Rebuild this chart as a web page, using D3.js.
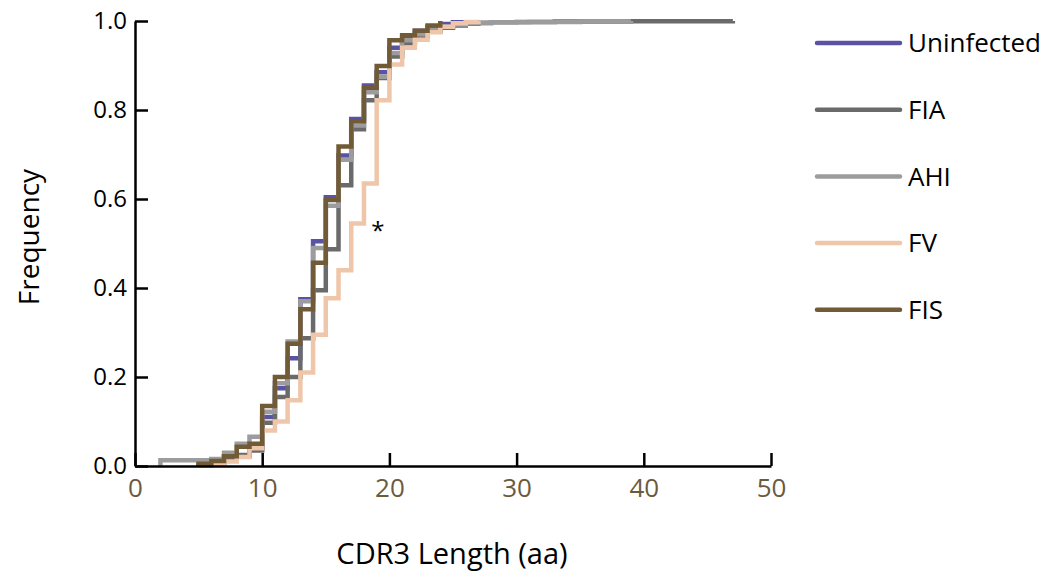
<!DOCTYPE html>
<html>
<head>
<meta charset="utf-8">
<script src="https://cdn.jsdelivr.net/npm/d3@7"></script>
<style>
  body { margin: 0; background: #fff; }
  text { font-family: "Open Sans", "Noto Sans", sans-serif; }
</style>
</head>
<body>
<div id="chart-area"></div>
<script>
// DATA: cumulative frequency at each CDR3 length (step after)
var seriesNames = ["Uninfected", "FIA", "AHI", "FV", "FIS"];
var seriesColors = ["#5a53a3", "#6a6a6a", "#9c9c9e", "#efc6a9", "#715b36"];

var uninfLen = [5, 6, 7, 8, 9, 10, 11, 12, 13, 14, 15, 16, 17, 18, 19, 20, 21, 22, 23, 24, 25, 26];
var uninfFreq = [0.003, 0.008, 0.015, 0.022, 0.04, 0.11, 0.175, 0.242, 0.375, 0.505, 0.604, 0.698, 0.78, 0.855, 0.885, 0.94, 0.96, 0.978, 0.987, 0.993, 0.997, 1.0];

var fiaLen = [5, 6, 7, 8, 9, 10, 11, 12, 13, 14, 15, 16, 17, 18, 19, 20, 21, 22, 23, 24, 25, 26, 27, 28, 30, 33, 39, 47];
var fiaFreq = [0.002, 0.008, 0.02, 0.025, 0.035, 0.097, 0.155, 0.2, 0.287, 0.395, 0.487, 0.631, 0.757, 0.822, 0.872, 0.92, 0.95, 0.965, 0.977, 0.985, 0.99, 0.994, 0.996, 0.997, 0.998, 0.999, 0.9995, 1.0];

var ahiLen = [2, 6, 7, 8, 9, 10, 11, 12, 13, 14, 15, 16, 17, 18, 19, 20, 21, 22, 23, 24, 25, 26, 28, 31, 35, 39];
var ahiFreq = [0.013, 0.016, 0.03, 0.05, 0.066, 0.122, 0.186, 0.28, 0.37, 0.49, 0.585, 0.688, 0.765, 0.84, 0.875, 0.928, 0.957, 0.97, 0.98, 0.987, 0.992, 0.995, 0.997, 0.998, 0.999, 1.0];

var fvLen = [6, 7, 8, 9, 10, 11, 12, 13, 14, 15, 16, 17, 18, 19, 20, 21, 22, 23, 24, 25, 26, 27];
var fvFreq = [0.003, 0.01, 0.02, 0.04, 0.08, 0.1, 0.148, 0.21, 0.295, 0.377, 0.44, 0.545, 0.635, 0.822, 0.902, 0.94, 0.958, 0.975, 0.987, 0.995, 0.998, 1.0];

var fisLen = [5, 6, 7, 8, 9, 10, 11, 12, 13, 14, 15, 16, 17, 18, 19, 20, 21, 22, 23, 24];
var fisFreq = [0.005, 0.011, 0.022, 0.043, 0.05, 0.135, 0.2, 0.275, 0.352, 0.457, 0.598, 0.718, 0.775, 0.85, 0.899, 0.957, 0.968, 0.978, 0.99, 1.0];

var xTicks = [0, 10, 20, 30, 40, 50];
var yTicks = [0, 0.2, 0.4, 0.6, 0.8, 1.0];

// GRAPHIC'S SIZE
var margin = { top: 21, right: 286, bottom: 110, left: 135 };
var width = 1057 - margin.left - margin.right;
var height = 576 - margin.top - margin.bottom;

var svg = d3.select("#chart-area")
    .append("svg")
    .attr("width", 1057)
    .attr("height", 576);

var g = svg.append("g")
    .attr("transform", "translate(" + margin.left + "," + margin.top + ")");

var x = d3.scaleLinear().domain([0, 50]).range([0, width]);
var y = d3.scaleLinear().domain([0, 1]).range([height, 0]);

// Build series (drawing order: bottom to top)
var series = [
    { name: "Uninfected", len: uninfLen, freq: uninfFreq },
    { name: "FIA", len: fiaLen, freq: fiaFreq },
    { name: "AHI", len: ahiLen, freq: ahiFreq },
    { name: "FV", len: fvLen, freq: fvFreq },
    { name: "FIS", len: fisLen, freq: fisFreq }
];
series.forEach(s => {
    s.color = seriesColors[seriesNames.indexOf(s.name)];
    s.points = s.len.map((d, i) => ({ x: d, y: s.freq[i] }));
    // start each curve from zero at its first length
    s.points.unshift({ x: s.len[0], y: 0 });
});

var line = d3.line()
    .x(d => x(d.x))
    .y(d => y(d.y))
    .curve(d3.curveStepAfter);

g.selectAll(".cdf")
    .data(series)
    .enter().append("path")
    .attr("class", "cdf")
    .attr("fill", "none")
    .attr("stroke", d => d.color)
    .attr("stroke-width", 4.5)
    .attr("stroke-linejoin", "miter")
    .attr("d", d => line(d.points));

// Axes
var xAxis = g.append("g")
    .attr("transform", "translate(0," + height + ")")
    .call(d3.axisBottom(x).tickValues(xTicks).tickSizeInner(-13).tickSizeOuter(0).tickPadding(10));
xAxis.selectAll("text")
    .attr("font-size", "26px")
    .attr("fill", "#6b5a3e")
    .attr("dy", "0.8em");

var yAxis = g.append("g")
    .call(d3.axisLeft(y).tickValues(yTicks).tickSizeInner(-13).tickSizeOuter(0).tickPadding(8)
        .tickFormat(d3.format(".1f")));
yAxis.selectAll("text")
    .attr("font-size", "24px")
    .attr("fill", "#000");

svg.selectAll(".domain, .tick line")
    .attr("stroke", "#000")
    .attr("stroke-width", 2.5);

// Asterisk annotation
g.append("text")
    .attr("x", x(19.1))
    .attr("y", y(0.51))
    .attr("font-size", "24px")
    .attr("text-anchor", "middle")
    .text("*");

// Axis labels
svg.append("text")
    .attr("x", 452)
    .attr("y", 564)
    .attr("font-size", "29px")
    .attr("text-anchor", "middle")
    .text("CDR3 Length (aa)");

svg.append("text")
    .attr("transform", "translate(39,237) rotate(-90)")
    .attr("font-size", "28px")
    .attr("text-anchor", "middle")
    .text("Frequency");

// Legend
var legend = svg.append("g")
    .attr("transform", "translate(817,43)");

var items = legend.selectAll(".item")
    .data(seriesNames)
    .enter().append("g")
    .attr("class", "item")
    .attr("transform", (d, i) => "translate(0," + (i * 66.7) + ")");

items.append("line")
    .attr("x1", 0).attr("x2", 83)
    .attr("stroke", (d, i) => seriesColors[i])
    .attr("stroke-width", 4.5)
    .attr("stroke-linecap", "round");

items.append("text")
    .attr("x", 91)
    .attr("dy", "0.36em")
    .attr("font-size", "26px")
    .text(d => d);
</script>
</body>
</html>
